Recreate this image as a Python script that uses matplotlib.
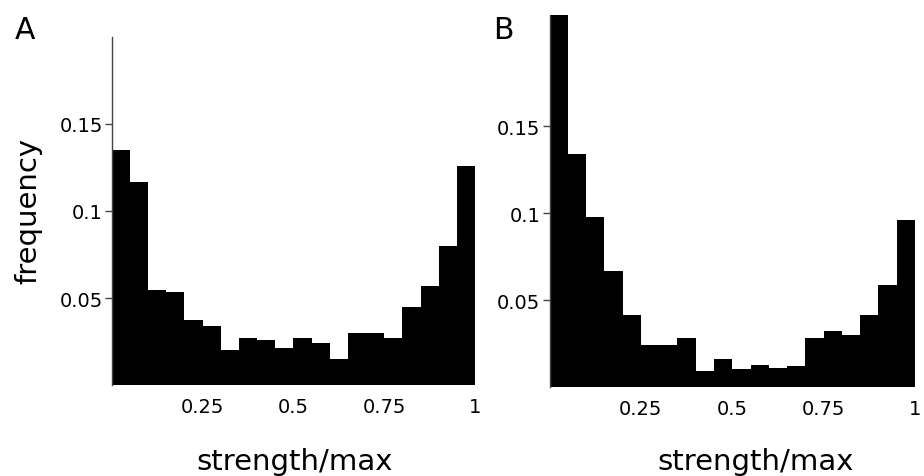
import numpy as np
import matplotlib
matplotlib.use("Agg")
import matplotlib.pyplot as plt

plt.rcParams['font.family'] = ['DejaVu Sans']

# 20 bins of width 0.05 over [0, 1]
bin_edges = [i * 0.05 for i in range(21)]
freq_a = [0.1349, 0.1169, 0.0544, 0.0533, 0.0374, 0.0341, 0.0203, 0.0270, 0.0261, 0.0213,
          0.0270, 0.0241, 0.0151, 0.0301, 0.0301, 0.0270, 0.0452, 0.0567, 0.0797, 0.1261]
freq_b = [0.2140, 0.1341, 0.0977, 0.0665, 0.0414, 0.0241, 0.0241, 0.0280, 0.0090, 0.0159,
          0.0102, 0.0128, 0.0109, 0.0119, 0.0280, 0.0322, 0.0301, 0.0414, 0.0586, 0.0960]
x_ticks = [0.25, 0.5, 0.75, 1.0]
x_ticklabels = ["0.25", "0.5", "0.75", "1"]
y_ticks = [0.05, 0.1, 0.15]
y_ticklabels = ["0.05", "0.1", "0.15"]
panel_labels = ["A", "B"]
xlabel = "strength/max"
ylabel = "frequency"

W, H = 924, 477
fig = plt.figure(figsize=(W / 100, H / 100), dpi=100)

def px_axes(left, right, top, bottom):
    return fig.add_axes([left / W, 1 - bottom / H, (right - left) / W, (bottom - top) / H])

axA = px_axes(111.7, 475.0, 37.7, 386.3)
axB = px_axes(549.5, 915.0, 15.7, 388.0)

edges = np.array(bin_edges)
for ax, freq, ytop in [(axA, freq_a, 0.2), (axB, freq_b, max(freq_b))]:
    ax.bar(edges[:-1], freq, width=np.diff(edges), align='edge',
           color='black', edgecolor='none', linewidth=0)
    ax.set_xlim(0, 1)
    ax.set_ylim(0, ytop)
    ax.set_xticks(x_ticks)
    ax.set_xticklabels(x_ticklabels)
    ax.set_yticks(y_ticks)
    ax.set_yticklabels(y_ticklabels)
    for s in ['top', 'right', 'bottom']:
        ax.spines[s].set_visible(False)
    ax.spines['left'].set_color('#444444')
    ax.spines['left'].set_linewidth(1.0)
    ax.tick_params(axis='x', length=0, pad=8.5, labelsize=14, labelcolor='black')
    ax.tick_params(axis='y', length=5, width=1.0, color='#444444', pad=1.5,
                   labelsize=14, labelcolor='black')
    ax.set_facecolor('white')

fig.text(28 / W, 1 - 211 / H, ylabel, rotation=90, fontsize=21,
         ha='center', va='center')
fig.text(295 / W, 7 / H, xlabel, fontsize=21, ha='center', va='baseline')
fig.text(756 / W, 7 / H, xlabel, fontsize=21, ha='center', va='baseline')
fig.text(15 / W, 1 - 39 / H, panel_labels[0], fontsize=21.5, ha='left', va='baseline')
fig.text(493 / W, 1 - 39 / H, panel_labels[1], fontsize=21.5, ha='left', va='baseline')

fig.savefig("out.png", dpi=100)
